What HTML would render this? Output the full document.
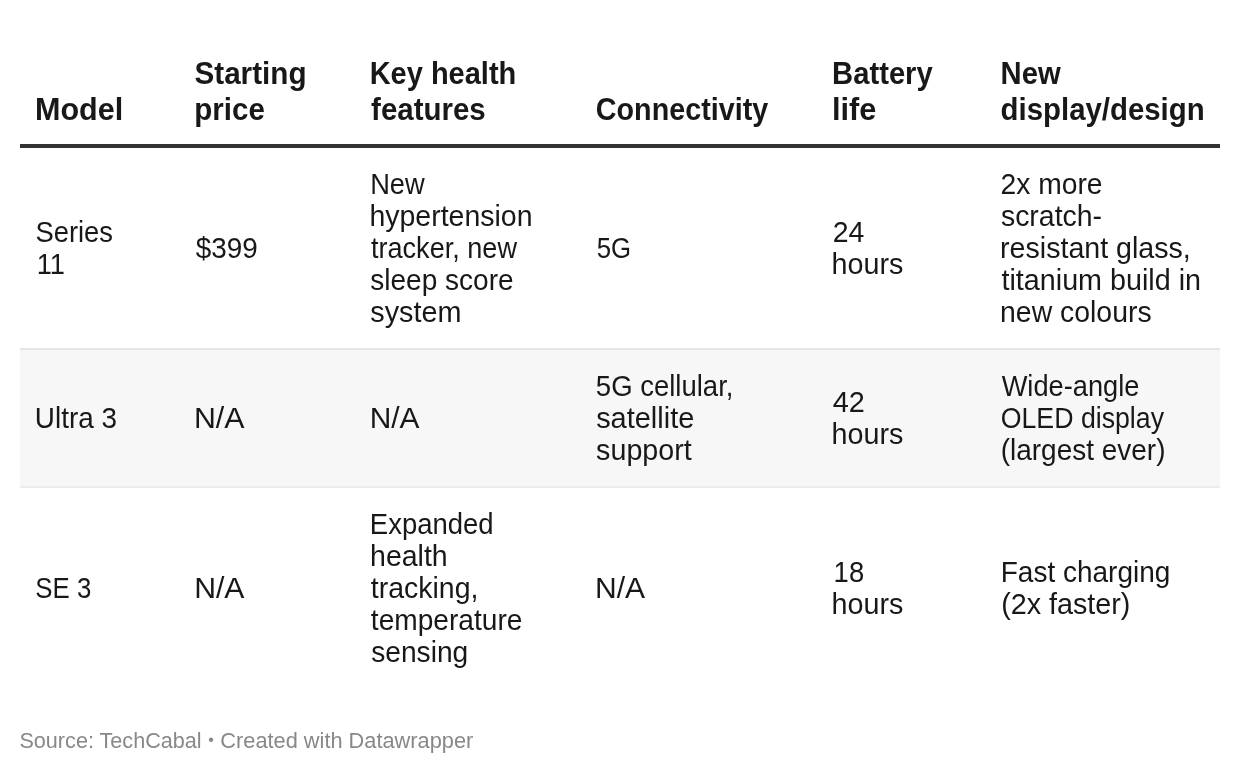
<!DOCTYPE html>
<html lang="en">
<head>
<meta charset="utf-8">
<title>Apple Watch comparison</title>
<style>
html,body{margin:0;padding:0;background:#fff;}
body{width:1240px;height:774px;overflow:hidden;position:relative;font-family:"Liberation Sans",sans-serif;color:#181818;}
table{position:absolute;left:20px;top:0;width:1200px;border-collapse:separate;border-spacing:0;table-layout:fixed;}
th,td{text-align:left;padding:0 0 0 16px;vertical-align:middle;white-space:nowrap;}
th{font-weight:700;font-size:32px;line-height:36px;vertical-align:bottom;height:148px;padding-bottom:17px;box-sizing:border-box;border-bottom:4px solid #333;}
td{font-size:29.5px;line-height:32px;box-sizing:border-box;}
td span,th span,.foot span{display:inline-block;transform-origin:0 50%;position:relative;top:0px;}
th span{top:0px;}
.foot span{top:0;position:absolute;left:0;}
.foot span.b{font-size:16px;top:0px;}
tr.r1 td{height:200px;}
tr.r2 td{height:138px;border-top:2px solid #e4e4e4;background:#f7f7f7;}
tr.r3 td{height:202px;border-top:2px solid #ececec;}
.foot{position:absolute;left:20px;top:725px;font-size:22.9px;line-height:30px;color:#888;white-space:nowrap;}
</style>
</head>
<body>
<table>
<colgroup><col style="width:159px"><col style="width:176px"><col style="width:226px"><col style="width:236px"><col style="width:168px"><col style="width:235px"></colgroup>
<thead>
<tr><th><span id="h_0_0" style="transform:translateX(-0.95px) scaleX(0.9537)">Model</span></th><th><span id="h_1_0" style="transform:translateX(-0.52px) scaleX(0.9266)">Starting</span><br><span id="h_1_1" style="transform:translateX(-0.68px) scaleX(0.9223)">price</span></th><th><span id="h_2_0" style="transform:translateX(-1.35px) scaleX(0.9061)">Key health</span><br><span id="h_2_1" style="transform:translateX(0.08px) scaleX(0.9208)">features</span></th><th><span id="h_3_0" style="transform:translateX(-1.19px) scaleX(0.8977)">Connectivity</span></th><th><span id="h_4_0" style="transform:translateX(-0.89px) scaleX(0.9125)">Battery</span><br><span id="h_4_1" style="transform:translateX(-1.00px) scaleX(0.9613)">life</span></th><th><span id="h_5_0" style="transform:translateX(-0.46px) scaleX(0.9129)">New</span><br><span id="h_5_1" style="transform:translateX(-0.38px) scaleX(0.9180)">display/design</span></th></tr>
</thead>
<tbody>
<tr class="r1"><td><span id="r1_0_0" style="transform:translateX(-0.59px) scaleX(0.9282)">Series</span><br><span id="r1_0_1" style="transform:translateX(0.75px) scaleX(0.9205)">11</span></td><td><span id="r1_1_0" style="transform:translateX(0.72px) scaleX(0.9445)">$399</span></td><td><span id="r1_2_0" style="transform:translateX(-0.86px) scaleX(0.9250)">New</span><br><span id="r1_2_1" style="transform:translateX(-1.59px) scaleX(0.9656)">hypertension</span><br><span id="r1_2_2" style="transform:translateX(-0.04px) scaleX(0.9181)">tracker, new</span><br><span id="r1_2_3" style="transform:translateX(-0.71px) scaleX(0.9499)">sleep score</span><br><span id="r1_2_4" style="transform:translateX(-0.69px) scaleX(0.9767)">system</span></td><td><span id="r1_3_0" style="transform:translateX(-0.31px) scaleX(0.8727)">5G</span></td><td><span id="r1_4_0" style="transform:translateX(-0.31px) scaleX(0.9641)">24</span><br><span id="r1_4_1" style="transform:translateX(-1.50px) scaleX(0.9740)">hours</span></td><td><span id="r1_5_0" style="transform:translateX(-0.56px) scaleX(0.9582)">2x more</span><br><span id="r1_5_1" style="transform:translateX(-0.09px) scaleX(0.9641)">scratch-</span><br><span id="r1_5_2" style="transform:translateX(-0.93px) scaleX(0.9693)">resistant glass,</span><br><span id="r1_5_3" style="transform:translateX(0.50px) scaleX(0.9732)">titanium build in</span><br><span id="r1_5_4" style="transform:translateX(-0.95px) scaleX(0.9628)">new colours</span></td></tr>
<tr class="r2"><td><span id="r2_0_0" style="transform:translateX(-1.13px) scaleX(0.9447)">Ultra 3</span></td><td><span id="r2_1_0" style="transform:translateX(-1.12px) scaleX(1.0288)">N/A</span></td><td><span id="r2_2_0" style="transform:translateX(-1.36px) scaleX(1.0139)">N/A</span></td><td><span id="r2_3_0" style="transform:translateX(-1.16px) scaleX(0.9322)">5G cellular,</span><br><span id="r2_3_1" style="transform:translateX(-0.86px) scaleX(0.9811)">satellite</span><br><span id="r2_3_2" style="transform:translateX(-0.88px) scaleX(0.9721)">support</span></td><td><span id="r2_4_0" style="transform:translateX(-0.22px) scaleX(0.9782)">42</span><br><span id="r2_4_1" style="transform:translateX(-1.50px) scaleX(0.9739)">hours</span></td><td><span id="r2_5_0" style="transform:translateX(0.66px) scaleX(0.9232)">Wide-angle</span><br><span id="r2_5_1" style="transform:translateX(-0.25px) scaleX(0.9051)">OLED display</span><br><span id="r2_5_2" style="transform:translateX(-0.34px) scaleX(0.9486)">(largest ever)</span></td></tr>
<tr class="r3"><td><span id="r3_0_0" style="transform:translateX(-0.63px) scaleX(0.8752)">SE 3</span></td><td><span id="r3_1_0" style="transform:translateX(-0.84px) scaleX(1.0233)">N/A</span></td><td><span id="r3_2_0" style="transform:translateX(-1.18px) scaleX(0.9315)">Expanded</span><br><span id="r3_2_1" style="transform:translateX(-0.99px) scaleX(0.9670)">health</span><br><span id="r3_2_2" style="transform:translateX(-0.17px) scaleX(0.9652)">tracking,</span><br><span id="r3_2_3" style="transform:translateX(-0.14px) scaleX(0.9531)">temperature</span><br><span id="r3_2_4" style="transform:translateX(0.13px) scaleX(0.9548)">sensing</span></td><td><span id="r3_3_0" style="transform:translateX(-1.96px) scaleX(1.0190)">N/A</span></td><td><span id="r3_4_0" style="transform:translateX(0.62px) scaleX(0.9302)">18</span><br><span id="r3_4_1" style="transform:translateX(-1.50px) scaleX(0.9740)">hours</span></td><td><span id="r3_5_0" style="transform:translateX(-0.22px) scaleX(0.9486)">Fast charging</span><br><span id="r3_5_1" style="transform:translateX(0.14px) scaleX(0.9736)">(2x faster)</span></td></tr>
</tbody>
</table>
<div class="foot"><span id="foot_0" style="transform:translateX(-0.59px) scaleX(0.9443)">Source: TechCabal</span> <span id="foot_1" class="b" style="transform:translateX(188.30px) scaleX(1.0000)">•</span> <span id="foot_2" style="transform:translateX(200.28px) scaleX(0.9515)">Created with Datawrapper</span></div>
</body>
</html>
